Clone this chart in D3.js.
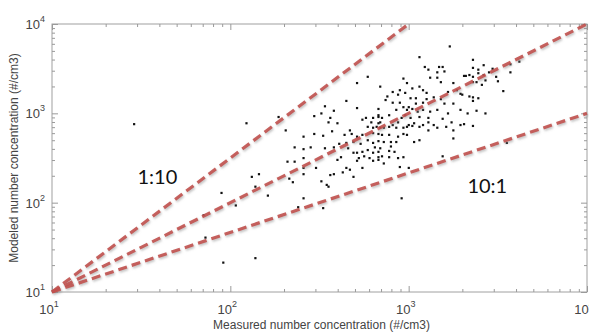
<!DOCTYPE html>
<html>
<head>
<meta charset="utf-8">
<script src="https://cdn.jsdelivr.net/npm/d3@7"></script>
<style>
  body { margin: 0; background: #fff; }
  svg { display: block; }
</style>
</head>
<body>
<div id="chart"></div>
<script>
// Axis extents (number concentration, #/cm3)
const xDomain = [10, 10000];
const yDomain = [10, 10000];
const majorTicks = [10, 100, 1000, 10000];

// Reference lines through the lower-left corner
const refLines = [
  { name: '1:10', from: [10, 10], to: [1000, 10000] },
  { name: '1:1', from: [10, 10], to: [10000, 10000] },
  { name: '10:1', from: [10, 10], to: [10000, 1000] }
];
const refLabels = [
  { text: '1:10', at: [39, 195] },
  { text: '10:1', at: [2760, 155] }
];

// Samples as [log10 measured, log10 modeled]
const samples = [
  [2.77,3.41],[2.71,3.34],[2.65,3.14],[2.71,3.06],[2.53,3.08],[2.51,3.00],[2.58,3.03],[2.47,2.97],[2.56,2.95],[2.55,2.90],
  [2.60,2.89],[2.74,2.93],[2.76,2.95],[2.79,2.90],[2.80,2.95],[2.83,2.96],[2.84,2.90],[2.82,2.85],[2.77,2.85],[2.80,2.84],
  [3.23,3.75],[3.06,3.63],[3.09,3.52],[3.11,3.49],[3.17,3.52],[3.19,3.52],[3.16,3.46],[3.20,3.47],[3.12,3.40],[3.16,3.40],
  [3.18,3.35],[3.25,3.34],[3.31,3.42],[2.97,3.39],[2.99,3.34],[2.84,3.30],[2.91,3.24],[2.95,3.26],[3.02,3.28],[3.06,3.30],
  [3.08,3.26],[3.10,3.23],[2.88,3.19],[2.94,3.21],[2.98,3.23],[3.01,3.17],[3.04,3.17],[3.10,3.16],[3.14,3.18],[3.22,3.24],
  [3.27,3.26],[3.30,3.21],[2.87,3.15],[2.91,3.12],[2.95,3.12],[2.97,3.07],[3.00,3.07],[3.04,3.11],[3.08,3.12],[3.18,3.16],
  [3.20,3.11],[3.25,3.11],[2.83,3.05],[2.93,3.04],[2.99,3.04],[3.02,3.05],[3.05,3.02],[3.08,3.04],[3.12,3.02],[3.16,3.04],
  [3.22,3.00],[3.29,3.04],[2.83,2.98],[2.85,2.95],[2.89,2.98],[2.96,2.95],[2.98,2.98],[3.01,2.95],[3.06,2.96],[3.11,2.95],
  [3.19,2.94],[3.24,2.90],[2.83,2.89],[2.91,2.87],[2.94,2.90],[3.00,2.87],[3.03,2.89],[3.08,2.87],[3.11,2.90],[3.14,2.87],
  [3.21,2.85],[2.86,2.84],[2.97,2.84],[3.06,2.85],[3.16,2.84],[3.29,2.87],
  [3.36,3.60],[3.42,3.54],[3.36,3.51],[3.39,3.49],[3.47,3.50],[3.45,3.46],[3.57,3.55],[3.62,3.58],[3.57,3.46],[3.32,3.42],
  [3.34,3.43],[3.36,3.41],[3.39,3.45],[3.42,3.43],[3.49,3.41],[3.36,3.35],[3.38,3.35],[3.41,3.32],[3.43,3.37],[3.50,3.36],
  [3.53,3.25],[3.29,3.22],[3.34,3.19],[3.36,3.18],[3.39,3.17],[3.36,3.14],[3.33,3.00],[3.38,3.03],[3.43,3.00],[3.31,2.88],
  [3.36,2.86],
  [2.57,2.80],[2.67,2.81],[2.52,2.75],[2.64,2.76],[2.68,2.77],[2.71,2.74],[2.74,2.76],[2.80,2.78],[2.41,2.74],[2.47,2.77],
  [2.36,2.62],[2.41,2.60],[2.45,2.62],[2.53,2.61],[2.58,2.62],[2.61,2.66],[2.65,2.67],[2.66,2.61],[2.69,2.68],[2.73,2.66],
  [2.77,2.70],[2.80,2.67],[2.83,2.69],[2.69,2.56],[2.71,2.56],[2.74,2.57],[2.77,2.59],[2.80,2.56],[2.72,2.50],[2.75,2.52],
  [2.78,2.50],[2.83,2.51],[2.62,2.51],[2.41,2.50],[2.36,2.46],[2.71,2.47],[2.60,2.48],[2.80,2.47],[2.48,2.39],[2.41,2.39],
  [2.65,2.39],[2.74,2.39],[2.67,2.37],[2.63,2.34],[2.41,2.32],[2.56,2.31],[2.58,2.32],[2.69,2.29],[2.35,2.23],[2.51,2.24],
  [2.54,2.20],[2.55,2.18],[2.41,2.05],[2.38,1.95],[2.52,1.94],
  [2.84,2.84],[2.89,2.85],[2.93,2.84],[2.99,2.85],[3.02,2.86],[3.11,2.81],[3.25,2.81],[2.83,2.77],[2.85,2.76],[2.89,2.76],
  [2.94,2.74],[2.97,2.77],[2.99,2.76],[3.06,2.70],[3.03,2.68],[3.25,2.72],[2.86,2.68],[2.90,2.68],[2.93,2.68],[2.81,2.62],
  [2.84,2.61],[2.90,2.63],[2.83,2.57],[2.89,2.58],[2.92,2.57],[2.85,2.52],[2.89,2.51],[2.94,2.50],[2.97,2.51],[2.83,2.48],
  [2.86,2.44],[2.95,2.40],[3.00,2.39],[3.19,2.52],[2.96,2.05],
  [3.55,2.67],[2.09,2.89],[2.27,2.96],[2.31,2.81],[1.95,2.11],[2.03,1.97],[2.12,2.29],[2.16,2.32],[2.14,2.18],[2.21,2.08],
  [2.32,2.46],[2.33,2.27],[1.85,1.86],[1.86,1.61],[1.96,1.33],[2.14,1.38],[1.46,2.88]
];

const width = 589, height = 332;
const margin = { top: 24, right: 2, bottom: 40, left: 52 };
const innerW = width - margin.left - margin.right;
const innerH = height - margin.top - margin.bottom;

const svg = d3.select('#chart').append('svg')
  .attr('width', width)
  .attr('height', height);

// soft shadow under the dashed lines
const defs = svg.append('defs');
defs.append('filter')
  .attr('id', 'shadow')
  .attr('x', '-10%').attr('y', '-10%')
  .attr('width', '120%').attr('height', '120%')
  .append('feDropShadow')
  .attr('dx', 1).attr('dy', 1.5)
  .attr('stdDeviation', 1)
  .attr('flood-color', '#888')
  .attr('flood-opacity', 0.6);

const g = svg.append('g').attr('transform', `translate(${margin.left},${margin.top})`);

const x = d3.scaleLog().domain(xDomain).range([0, innerW]);
const y = d3.scaleLog().domain(yDomain).range([innerH, 0]);

const minorX = x.ticks().filter(v => !majorTicks.includes(v));
const minorY = y.ticks().filter(v => !majorTicks.includes(v));

// Frame
g.append('rect')
  .attr('width', innerW)
  .attr('height', innerH)
  .attr('fill', 'none')
  .attr('stroke', '#a0a0a0')
  .attr('stroke-width', 1);

// Inward ticks on all four sides
function tickAxis(axisFn, scale, values, size) {
  return axisFn(scale).tickValues(values).tickSize(-size).tickFormat('');
}
const sides = [
  [d3.axisBottom, x, `translate(0,${innerH})`],
  [d3.axisTop, x, 'translate(0,0)'],
  [d3.axisLeft, y, 'translate(0,0)'],
  [d3.axisRight, y, `translate(${innerW},0)`]
];
sides.forEach(([fn, scale, tr]) => {
  const isX = scale === x;
  [[isX ? minorX : minorY, 3], [majorTicks, 6]].forEach(([vals, size]) => {
    const ax = g.append('g')
      .attr('transform', tr)
      .call(tickAxis(fn, scale, vals, size));
    ax.select('.domain').remove();
    ax.selectAll('line').attr('stroke', '#9a9a9a');
  });
});

// Tick labels as 10 with superscript exponent
const labelFont = '"Liberation Sans", Arial, sans-serif';
majorTicks.forEach(v => {
  const exp = Math.round(Math.log10(v));
  const tx = g.append('text')
    .attr('x', x(v) - 3)
    .attr('y', innerH + 22)
    .attr('text-anchor', 'middle')
    .attr('font-family', labelFont)
    .attr('font-size', 13)
    .attr('fill', '#444');
  tx.append('tspan').text('10');
  tx.append('tspan').attr('dy', -7).attr('font-size', 9).text(exp);

  const ty = g.append('text')
    .attr('x', -7)
    .attr('y', y(v) + 5)
    .attr('text-anchor', 'end')
    .attr('font-family', labelFont)
    .attr('font-size', 13)
    .attr('fill', '#444');
  ty.append('tspan').text('10');
  ty.append('tspan').attr('dy', -7).attr('font-size', 9).text(exp);
});

// Axis titles
g.append('text')
  .attr('x', innerW / 2 + 2)
  .attr('y', innerH + 37)
  .attr('text-anchor', 'middle')
  .attr('font-family', labelFont)
  .attr('font-size', 12)
  .attr('fill', '#444')
  .text('Measured number concentration (#/cm3)');

g.append('text')
  .attr('transform', `translate(${-34},${innerH / 2}) rotate(-90)`)
  .attr('text-anchor', 'middle')
  .attr('font-family', labelFont)
  .attr('font-size', 12)
  .attr('fill', '#444')
  .text('Modeled number concentration (#/cm3)');

// Scatter points
const points = samples.map(d => ({ measured: 10 ** d[0], modeled: 10 ** d[1] }));
g.append('g')
  .selectAll('rect')
  .data(points)
  .enter().append('rect')
  .attr('x', d => x(d.measured) - 1)
  .attr('y', d => y(d.modeled) - 1)
  .attr('width', 2.2)
  .attr('height', 2.2)
  .attr('fill', '#111');

// Dashed reference lines
g.append('g')
  .attr('filter', 'url(#shadow)')
  .selectAll('line')
  .data(refLines)
  .enter().append('line')
  .attr('x1', d => x(d.from[0]))
  .attr('y1', d => y(d.from[1]))
  .attr('x2', d => x(d.to[0]))
  .attr('y2', d => y(d.to[1]))
  .attr('stroke', '#c0504d')
  .attr('stroke-width', 3.2)
  .attr('stroke-dasharray', '9,5')
  .attr('opacity', 0.9);

// Ratio labels
g.selectAll('.ratio')
  .data(refLabels)
  .enter().append('text')
  .attr('class', 'ratio')
  .attr('x', d => x(d.at[0]))
  .attr('y', d => y(d.at[1]) + 7)
  .attr('text-anchor', 'middle')
  .attr('font-family', 'Lato, "Open Sans", sans-serif')
  .attr('font-size', 20)
  .attr('fill', '#111')
  .text(d => d.text);
</script>
</body>
</html>
